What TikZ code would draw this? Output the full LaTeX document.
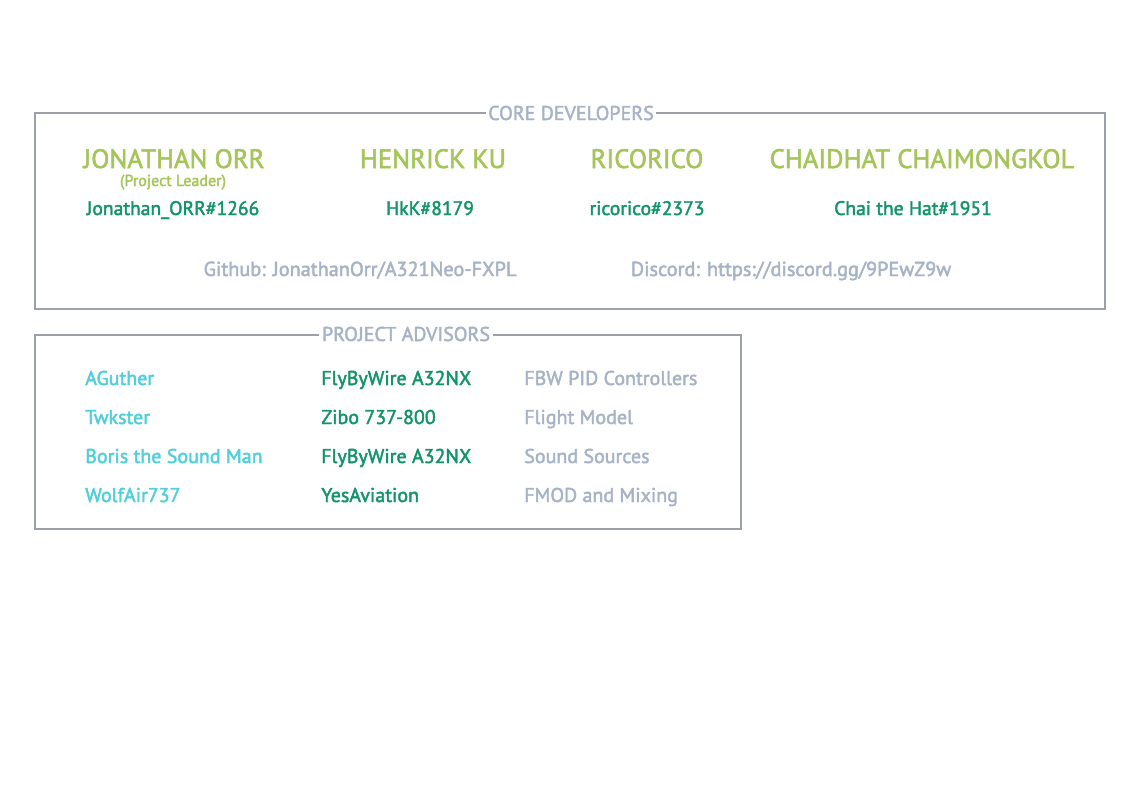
\documentclass[tikz,border=0pt]{standalone}
\usepackage{fontspec}
\setmainfont{PT Sans}[FakeBold=2]
\definecolor{lime}{HTML}{A5C55A}
\definecolor{dgreen}{HTML}{12946A}
\definecolor{cyanish}{HTML}{4ECFDA}
\definecolor{greyblue}{HTML}{A6B2C6}
\definecolor{border}{HTML}{9CA0A8}
\begin{document}
\begin{tikzpicture}[x=0.75pt,y=-0.75pt,
  frame/.style={draw=border,line width=0.9pt},
  sectitle/.style={fill=white,anchor=base,inner xsep=2pt,inner ysep=1pt,text=greyblue,font=\fontsize{15}{17}\selectfont},
  bigname/.style={anchor=base,text=lime,font=\fontsize{20}{24}\selectfont,inner sep=0pt},
  role/.style={anchor=base,text=lime,font=\fontsize{12}{14}\selectfont,inner sep=0pt},
  handle/.style={anchor=base,text=dgreen,font=\fontsize{14.7}{17}\selectfont,inner sep=0pt},
  link/.style={anchor=base,text=greyblue,font=\fontsize{15.2}{17}\selectfont,inner sep=0pt},
  adv/.style={anchor=base west,inner sep=0pt,font=\fontsize{15}{17}\selectfont},
  advname/.style={adv,text=cyanish},
  advproj/.style={adv,text=dgreen},
  advtask/.style={adv,text=greyblue}]
\useasboundingbox[fill=white] (0,0) rectangle (1143,800);
% Core developers
\draw[frame] (35,113) rectangle (1105,309);
\node[sectitle] (coretitle) at (571,120) {CORE DEVELOPERS};
\node[bigname] (n1) at (174,168) {JONATHAN ORR};
\node[role] (r1) at (173,186) {(Project Leader)};
\node[bigname] (n2) at (433,168) {HENRICK KU};
\node[bigname] (n3) at (647,168) {RICORICO};
\node[bigname] (n4) at (922,168) {CHAIDHAT CHAIMONGKOL};
\node[handle] (h1) at (173,215) {Jonathan\_ORR\#1266};
\node[handle] (h2) at (430,215) {HkK\#8179};
\node[handle] (h3) at (647,215) {ricorico\#2373};
\node[handle] (h4) at (913,215) {Chai the Hat\#1951};
\node[link] (gh) at (360,276) {Github: JonathanOrr/A321Neo-FXPL};
\node[link] (dc) at (791,276) {Discord: https://discord.gg/9PEwZ9w};
% Project advisors
\draw[frame] (35,335) rectangle (741,529);
\node[sectitle] (advtitle) at (406,341) {PROJECT ADVISORS};
\node[advname] (a1) at (85,385) {AGuther};
\node[advname] (a2) at (85,424) {Twkster};
\node[advname] (a3) at (85,463) {Boris the Sound Man};
\node[advname] (a4) at (85,502) {WolfAir737};
\node[advproj] (p1) at (321,385) {FlyByWire A32NX};
\node[advproj] (p2) at (321,424) {Zibo 737-800};
\node[advproj] (p3) at (321,463) {FlyByWire A32NX};
\node[advproj] (p4) at (321,502) {YesAviation};
\node[advtask] (t1) at (524,385) {FBW PID Controllers};
\node[advtask] (t2) at (524,424) {Flight Model};
\node[advtask] (t3) at (524,463) {Sound Sources};
\node[advtask] (t4) at (524,502) {FMOD and Mixing};
\end{tikzpicture}
\end{document}
